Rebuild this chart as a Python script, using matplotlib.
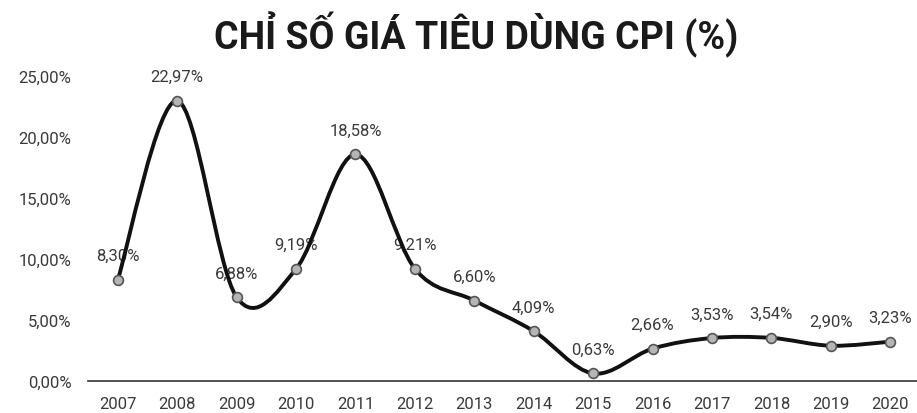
import matplotlib.pyplot as plt
from matplotlib.path import Path
from matplotlib.patches import PathPatch

years = ["2007", "2008", "2009", "2010", "2011", "2012", "2013",
         "2014", "2015", "2016", "2017", "2018", "2019", "2020"]
cpi = [8.30, 22.97, 6.88, 9.19, 18.58, 9.21, 6.60,
       4.09, 0.63, 2.66, 3.53, 3.54, 2.90, 3.23]
yticks = [0, 5, 10, 15, 20, 25]


def fmt(v):
    return f"{v:.2f}%".replace(".", ",")


def smooth_path(xs, ys):
    # Excel-like smoothed line: cubic Bezier with Catmull-Rom control points
    n = len(xs)
    verts = [(xs[0], ys[0])]
    codes = [Path.MOVETO]
    for i in range(n - 1):
        x0, y0 = (xs[i - 1], ys[i - 1]) if i > 0 else (xs[i], ys[i])
        x3, y3 = (xs[i + 2], ys[i + 2]) if i + 2 < n else (xs[i + 1], ys[i + 1])
        c1 = (xs[i] + (xs[i + 1] - x0) / 6, ys[i] + (ys[i + 1] - y0) / 6)
        c2 = (xs[i + 1] - (x3 - xs[i]) / 6, ys[i + 1] - (y3 - ys[i]) / 6)
        verts += [c1, c2, (xs[i + 1], ys[i + 1])]
        codes += [Path.CURVE4] * 3
    return Path(verts, codes)


plt.rcParams['font.family'] = ['Roboto', 'DejaVu Sans']

fig = plt.figure(figsize=(9.17, 4.14), dpi=100)
ax = fig.add_axes([0.096, 0.077, 0.904, 0.737])

x = list(range(len(years)))
ax.add_patch(PathPatch(smooth_path(x, cpi), fill=False, edgecolor='#111111',
                       lw=2.8, capstyle='round', joinstyle='round', zorder=3))
ax.scatter(x, cpi, s=50, facecolor='#b5b5b5', edgecolor='#555555',
           linewidths=1.2, zorder=4)

for xi, v in zip(x, cpi):
    ax.annotate(fmt(v), (xi, v), xytext=(0, 12), textcoords='offset points',
                ha='center', va='bottom', fontsize=12, color='#3a3a3a', zorder=2)

ax.set_xlim(-0.5, 13.45)
ax.set_ylim(0, 25)
ax.set_xticks(x)
ax.set_xticklabels(years)
ax.set_yticks(yticks)
ax.set_yticklabels([fmt(t) for t in yticks])
ax.tick_params(axis='both', length=0, labelsize=12, colors='#3a3a3a')
ax.tick_params(axis='y', pad=12)
ax.tick_params(axis='x', pad=11)

for side in ['top', 'right', 'left']:
    ax.spines[side].set_visible(False)
ax.spines['bottom'].set_color('#333333')
ax.spines['bottom'].set_linewidth(1.2)
ax.patch.set_alpha(0)

fig.text(0.519, 0.915, "CHỈ SỐ GIÁ TIÊU DÙNG CPI (%)", ha='center', va='center',
         fontsize=27, fontweight='bold', color='#1a1a1a')

fig.savefig("out.png", dpi=100)
